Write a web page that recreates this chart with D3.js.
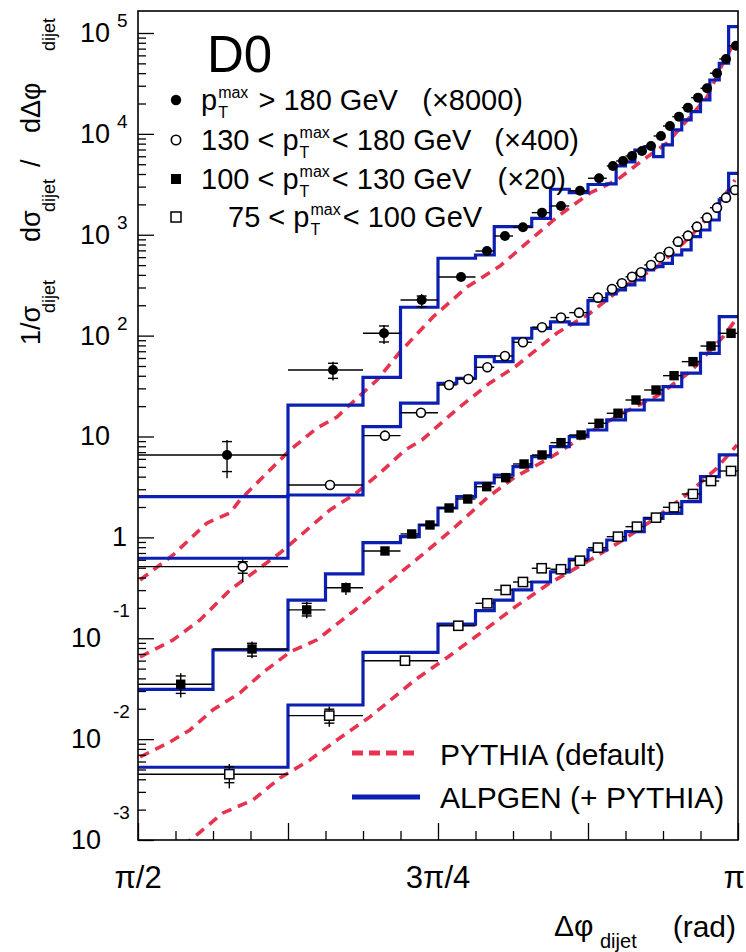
<!DOCTYPE html>
<html><head><meta charset="utf-8">
<script src="https://cdn.jsdelivr.net/npm/d3@7"></script>
<style>
body{margin:0;background:#fff}
svg{display:block}
text{font-family:"Liberation Sans",Arial,Helvetica,sans-serif;fill:#000}
</style>
</head><body>
<svg id="c" width="746" height="952"></svg>
<script>
const PI = Math.PI;

// ---------- data (x in units of pi) ----------
// pT max > 180 GeV (x8000)
const s1Edges = [0.5,0.625,0.6875,0.71875,0.75,0.78125,0.796875,0.8125,0.828125,0.84375,0.859375,0.875,0.890625,0.8984375,0.90625,0.9140625,0.921875,0.9296875,0.9375,0.9453125,0.953125,0.9609375,0.96875,0.9765625,0.984375,0.9921875,1];
const s1X = [0.5742,0.6625,0.705,0.7364,0.7692,0.7908,0.8058,0.8208,0.8367,0.8525,0.8683,0.8842,0.8958,0.9042,0.9117,0.92,0.9275,0.9358,0.9433,0.9508,0.9583,0.9667,0.9742,0.9825,0.99,0.9983];
const s1Val = [6.56,45.6,105.5,225.6,381,690,972,1186,1656,1929,2735,3631,4808,5387,6040,6770,7590,9530,11970,14820,18200,22860,28300,39900,55300,74800];
const s1ErrTot = [[3.85,9.24],[35.8,55.0],[82.6,127.5],[186.7,259]];
const s1ErrStat = [[4.49,8.9],[37.7,53.2],[86.5,124.6],[193.6,247]];
const s1Alpgen = [2.53,20.5,38.6,191,585,630,1203,1203,1456,2825,2612,3150,3187,4808,5270,6920,7420,5940,7770,10930,13740,16600,21680,34200,50100,115600];
const s1Pythia = [[0.5017,0.378],[0.5292,0.669],[0.5575,1.389],[0.5767,1.746],[0.585,2.348],[0.6125,4.99],[0.6267,7.35],[0.6492,12.15],[0.6658,15.6],[0.6808,23.0],[0.6992,36.3],[0.7183,68.8],[0.7458,153],[0.7742,303],[0.8017,490],[0.8492,1500],[0.8767,2595],[0.8992,3490],[0.9208,5510],[0.9408,8130],[0.96,14720],[0.9742,23200],[0.9875,50500],[0.9958,76200]];

// 130 < pT max < 180 GeV (x400)
const s2Edges = [0.5,0.625,0.6875,0.71875,0.75,0.765625,0.78125,0.796875,0.8125,0.828125,0.84375,0.859375,0.875,0.890625,0.8984375,0.90625,0.9140625,0.921875,0.9296875,0.9375,0.9453125,0.953125,0.9609375,0.96875,0.9765625,0.984375,0.9921875,1];
const s2X = [0.5873,0.66,0.7058,0.7358,0.7592,0.7753,0.7911,0.8058,0.8208,0.8367,0.8525,0.8675,0.8833,0.895,0.9033,0.9117,0.9192,0.9275,0.935,0.9425,0.95,0.9583,0.9658,0.9742,0.9825,0.99,0.9975];
const s2Val = [0.513,3.31,10.2,17.2,32.4,37.2,48.5,62.8,85.9,121,151,169,238,290,330,384,425,502,598,679,854,979,1203,1477,1855,2332,2780];
const s2ErrTot = [[0.364,0.607],[2.95,3.71]];
const s2ErrStat = [[0.441,0.574]];
const s2Alpgen = [0.621,2.63,12.5,21.4,33.7,37.8,61.9,55.2,94.2,118,137,130,222,259,284,318,356,448,483,521,630,707,957,1115,1400,2213,4067];
const s2Pythia = [[0.5017,0.0652],[0.5292,0.0961],[0.5517,0.1518],[0.5767,0.301],[0.6183,0.700],[0.66,1.869],[0.6808,2.69],[0.7017,4.35],[0.7225,7.35],[0.7367,9.24],[0.765,18.3],[0.7933,34.0],[0.8142,49.0],[0.8492,106],[0.8767,167],[0.9042,303],[0.9325,479],[0.96,948],[0.9825,1884],[0.9975,3490]];

// 100 < pT max < 130 GeV (x20)
const s3Edges = [0.5,0.5625,0.625,0.65625,0.6875,0.71875,0.734375,0.75,0.765625,0.78125,0.796875,0.8125,0.828125,0.84375,0.859375,0.875,0.890625,0.90625,0.921875,0.9375,0.953125,0.96875,0.984375,1];
const s3X = [0.5356,0.595,0.6406,0.6733,0.7058,0.7281,0.7433,0.7592,0.7748,0.7906,0.8064,0.8217,0.8367,0.8525,0.8692,0.8842,0.9,0.915,0.9317,0.9467,0.9625,0.9775,0.9942];
const s3Val = [0.035,0.0783,0.191,0.317,0.733,1.081,1.327,1.956,2.40,3.18,3.91,5.34,6.56,8.69,10.35,13.52,17.0,23.0,28.9,40.1,55.2,78.9,105.5];
const s3ErrTot = [[0.0259,0.0449],[0.0633,0.0926],[0.158,0.2305],[0.269,0.356]];
const s3ErrStat = [[0.0284,0.0423],[0.0665,0.0892],[0.1663,0.222]];
const s3Alpgen = [0.0312,0.0765,0.239,0.434,0.886,1.016,1.327,1.956,2.53,3.46,4.15,5.02,6.31,7.93,9.96,11.6,14.6,18.3,23.0,31.2,42.4,66.8,154];
const s3Pythia = [[0.5017,0.00665],[0.5267,0.00938],[0.5433,0.01233],[0.5625,0.01953],[0.585,0.0288],[0.6042,0.0458],[0.6267,0.0731],[0.6492,0.0965],[0.6808,0.1906],[0.7083,0.353],[0.7367,0.669],[0.7642,1.268],[0.7917,2.51],[0.8142,3.97],[0.8433,6.13],[0.8767,11.09],[0.9042,17.1],[0.9325,25.2],[0.96,43.6],[0.9875,97.0],[0.9992,149.6]];

// 75 < pT max < 100 GeV
const s4Edges = [0.5,0.625,0.6875,0.75,0.78125,0.796875,0.8125,0.828125,0.84375,0.859375,0.875,0.890625,0.90625,0.921875,0.9375,0.953125,0.96875,0.984375,1];
const s4X = [0.5761,0.6594,0.7225,0.7669,0.7911,0.8064,0.8208,0.8364,0.8525,0.8683,0.8833,0.9,0.9158,0.9317,0.9467,0.9625,0.9775,0.9942];
const s4Val = [0.00449,0.0171,0.0599,0.133,0.222,0.301,0.361,0.494,0.483,0.587,0.791,1.016,1.277,1.568,1.988,2.69,3.62,4.55];
const s4ErrTot = [[0.00325,0.00567],[0.0133,0.0210]];
const s4ErrStat = [[0.0037,0.00532],[0.0144,0.0198]];
const s4Alpgen = [0.00526,0.0218,0.0726,0.138,0.1876,0.239,0.301,0.361,0.454,0.607,0.750,0.942,1.139,1.546,1.733,2.26,4.00,6.56];
const s4Pythia = [[0.5375,0.000873],[0.5458,0.001047],[0.5708,0.001854],[0.5958,0.002494],[0.6183,0.00412],[0.6433,0.00621],[0.6658,0.00981],[0.6933,0.0166],[0.7308,0.0386],[0.7583,0.0652],[0.7867,0.1154],[0.8142,0.2042],[0.8433,0.353],[0.8767,0.597],[0.9042,0.942],[0.9325,1.593],[0.96,2.82],[0.9808,4.66],[0.9992,8.24]];

// ticks & labels
const yMajorExp = [-3,-2,-1,0,1,2,3,4,5];
const xMajorTicks = [0.5,0.625,0.75,0.875,1];
const xLabelVals = [0.5,0.75,1];
const xLabelText = ["π/2","3π/4","π"];
const legendRows = [
  {pre:"p", post:" > 180 GeV", factor:"(×8000)", x:201, fx:523},
  {pre:"130 < p", post:"< 180 GeV", factor:"(×400)", x:201, fx:579},
  {pre:"100 < p", post:"< 130 GeV", factor:"(×20)", x:201, fx:566},
  {pre:"75 < p", post:"< 100 GeV", factor:"", x:228, fx:0}
];

// ---------- layout ----------
const X0=138, X1=738, Y0=11, Y1=840;
const BLUE="#0c1fb3", RED="#e6334f";
const x = d3.scaleLinear().domain([0.5*PI, PI]).range([X0, X1]);
const y = d3.scaleLog().domain([1e-3, 1.652e5]).range([Y1, Y0]);
const X = f => x(f*PI);

const svg = d3.select("#c");
svg.append("defs").append("clipPath").attr("id","clip")
  .append("rect").attr("x",X0).attr("y",Y0).attr("width",X1-X0).attr("height",Y1-Y0);

const series = [
  {edges:s1Edges,x:s1X,v:s1Val,tot:s1ErrTot,stat:s1ErrStat,alp:s1Alpgen,pyt:s1Pythia,m:"fc"},
  {edges:s2Edges,x:s2X,v:s2Val,tot:s2ErrTot,stat:s2ErrStat,alp:s2Alpgen,pyt:s2Pythia,m:"oc"},
  {edges:s3Edges,x:s3X,v:s3Val,tot:s3ErrTot,stat:s3ErrStat,alp:s3Alpgen,pyt:s3Pythia,m:"fs"},
  {edges:s4Edges,x:s4X,v:s4Val,tot:s4ErrTot,stat:s4ErrStat,alp:s4Alpgen,pyt:s4Pythia,m:"os"}
];

const plot = svg.append("g").attr("clip-path","url(#clip)");

// PYTHIA dashed curves
const pline = d3.line().x(d=>X(d[0])).y(d=>y(d[1]));
series.forEach(s=>{
  plot.append("path").attr("d",pline(s.pyt)).attr("fill","none")
    .attr("stroke",RED).attr("stroke-width",3.6).attr("stroke-dasharray","10,7");
});

// ALPGEN histograms
const hline = d3.line().x(d=>X(d[0])).y(d=>y(d[1]));
series.forEach(s=>{
  const pts=[];
  s.alp.forEach((v,i)=>{pts.push([s.edges[i],v]);pts.push([s.edges[i+1],v]);});
  plot.append("path").attr("d",hline(pts)).attr("fill","none")
    .attr("stroke",BLUE).attr("stroke-width",3.2).attr("stroke-linejoin","miter");
});

// data points
series.forEach(s=>{
  const g = plot.append("g");
  s.v.forEach((v,i)=>{
    const yy=y(v), xx=X(s.x[i]);
    g.append("line").attr("x1",X(s.edges[i])).attr("x2",X(s.edges[i+1]))
      .attr("y1",yy).attr("y2",yy).attr("stroke","#000").attr("stroke-width",1.4);
    if(s.tot[i]){
      g.append("line").attr("x1",xx).attr("x2",xx).attr("y1",y(s.tot[i][0])).attr("y2",y(s.tot[i][1]))
        .attr("stroke","#000").attr("stroke-width",1.4);
    }
    if(s.stat[i]){
      s.stat[i].forEach(e=>{
        g.append("line").attr("x1",xx-5).attr("x2",xx+5).attr("y1",y(e)).attr("y2",y(e))
          .attr("stroke","#000").attr("stroke-width",1.4);
      });
    }
  });
  s.v.forEach((v,i)=>{
    const yy=y(v), xx=X(s.x[i]);
    if(s.m==="fc") g.append("circle").attr("cx",xx).attr("cy",yy).attr("r",5).attr("fill","#000");
    if(s.m==="oc") g.append("circle").attr("cx",xx).attr("cy",yy).attr("r",4.5).attr("fill","#fff").attr("stroke","#000").attr("stroke-width",1.6);
    if(s.m==="fs") g.append("rect").attr("x",xx-4.7).attr("y",yy-4.7).attr("width",9.4).attr("height",9.4).attr("fill","#000");
    if(s.m==="os") g.append("rect").attr("x",xx-4.6).attr("y",yy-4.6).attr("width",9.2).attr("height",9.2).attr("fill","#fff").attr("stroke","#000").attr("stroke-width",1.5);
  });
});

// ---------- axes ----------
const yMajor = yMajorExp.map(e=>Math.pow(10,e));
const yMinor = [];
yMajorExp.forEach(e=>{ [2,3,4,5,6,7,8,9].forEach(k=>{const v=k*Math.pow(10,e); if(v<1.652e5) yMinor.push(v);}); });
const xMinor = d3.range(0,17).map(i=>0.5+i/32).filter(f=>xMajorTicks.indexOf(f)<0);

function styleAxis(g){ g.select(".domain").remove(); g.selectAll(".tick line").attr("stroke","#000").attr("stroke-width",1.3); g.selectAll(".tick text").remove(); }
svg.append("g").attr("transform",`translate(${X0},0)`).call(d3.axisRight(y).tickValues(yMinor).tickSize(8)).call(styleAxis);
svg.append("g").attr("transform",`translate(${X0},0)`).call(d3.axisRight(y).tickValues(yMajor).tickSize(16)).call(styleAxis);
svg.append("g").attr("transform",`translate(0,${Y1})`).call(d3.axisTop(x).tickValues(xMinor.map(f=>f*PI)).tickSize(9)).call(styleAxis);
svg.append("g").attr("transform",`translate(0,${Y1})`).call(d3.axisTop(x).tickValues(xMajorTicks.map(f=>f*PI)).tickSize(17)).call(styleAxis);

svg.append("rect").attr("x",X0).attr("y",Y0).attr("width",X1-X0).attr("height",Y1-Y0)
  .attr("fill","none").attr("stroke","#000").attr("stroke-width",1.6);

// y tick labels
yMajorExp.forEach(e=>{
  const ty = y(Math.pow(10,e));
  if(e===0){
    svg.append("text").attr("x",127).attr("y",ty+9).attr("text-anchor","end").style("font-size","27px").text("1");
  } else if(e===1){
    svg.append("text").attr("x",110).attr("y",ty+9).attr("text-anchor","end").style("font-size","27px").text("10");
  } else if(e>0){
    svg.append("text").attr("x",110).attr("y",ty+9).attr("text-anchor","end").style("font-size","27px").text("10");
    svg.append("text").attr("x",117).attr("y",ty-6).style("font-size","19px").text(String(e));
  } else {
    svg.append("text").attr("x",101).attr("y",ty+9).attr("text-anchor","end").style("font-size","27px").text("10");
    svg.append("text").attr("x",113).attr("y",ty-21).style("font-size","19px").text(String(e));
  }
});

// x tick labels
xLabelVals.forEach((f,i)=>{
  const last = i===xLabelVals.length-1;
  svg.append("text").attr("x",last?745:X(f)).attr("y",888).attr("text-anchor",last?"end":"middle")
    .style("font-size","31px").text(xLabelText[i]);
});

// x title
svg.append("text").attr("x",554).attr("y",936).style("font-size","30px").text("Δφ");
svg.append("text").attr("x",600).attr("y",948).style("font-size","20px").text("dijet");
svg.append("text").attr("x",736).attr("y",937).attr("text-anchor","end").style("font-size","30px").text("(rad)");

// y title (rotated, reading upward)
const ytSeg = [
  {t:"1/σ",s:345,f:27,b:40},{t:"dijet",s:313,f:18,b:55},
  {t:"dσ",s:242,f:27,b:40},{t:"dijet",s:212,f:18,b:55},
  {t:"/",s:167,f:27,b:40},{t:"dΔφ",s:133,f:27,b:40},{t:"dijet",s:51,f:18,b:55}
];
const ytG = svg.append("g").attr("transform","rotate(-90)");
ytSeg.forEach(d=>{
  ytG.append("text").attr("x",-d.s).attr("y",d.b).style("font-size",d.f+"px").text(d.t);
});

// D0 label
svg.append("text").attr("x",207).attr("y",72).style("font-size","51px").text("D0");

// top legend
const rowY = [100,140,179,217];
legendRows.forEach((r,i)=>{
  const cy=rowY[i], base=cy+10;
  if(i===0) svg.append("circle").attr("cx",176).attr("cy",cy).attr("r",5.2).attr("fill","#000");
  if(i===1) svg.append("circle").attr("cx",176).attr("cy",cy).attr("r",4.7).attr("fill","#fff").attr("stroke","#000").attr("stroke-width",1.6);
  if(i===2) svg.append("rect").attr("x",171).attr("y",cy-5).attr("width",10).attr("height",10).attr("fill","#000");
  if(i===3) svg.append("rect").attr("x",171).attr("y",cy-5).attr("width",10).attr("height",10).attr("fill","#fff").attr("stroke","#000").attr("stroke-width",1.5);
  const t1 = svg.append("text").attr("x",r.x).attr("y",base).style("font-size","29px").style("white-space","pre").text(r.pre);
  const w1 = t1.node().getComputedTextLength();
  const sx = r.x + w1 + 1;
  const tm = svg.append("text").attr("x",sx).attr("y",base-12).style("font-size","16px").text("max");
  svg.append("text").attr("x",sx).attr("y",base+8).style("font-size","16px").text("T");
  const wm = tm.node().getComputedTextLength();
  svg.append("text").attr("x",sx+wm+2).attr("y",base).style("font-size","29px").style("white-space","pre").text(r.post);
  if(r.factor) svg.append("text").attr("x",r.fx).attr("y",base).attr("text-anchor","end").style("font-size","29px").text(r.factor);
});

// bottom legend
svg.append("line").attr("x1",352).attr("x2",420).attr("y1",753).attr("y2",753)
  .attr("stroke",RED).attr("stroke-width",5).attr("stroke-dasharray","11,6");
svg.append("text").attr("x",440).attr("y",765).style("font-size","30px").text("PYTHIA (default)");
svg.append("line").attr("x1",352).attr("x2",420).attr("y1",797).attr("y2",797)
  .attr("stroke",BLUE).attr("stroke-width",5);
svg.append("text").attr("x",440).attr("y",808).style("font-size","30px").text("ALPGEN (+ PYTHIA)");
</script>
</body></html>
